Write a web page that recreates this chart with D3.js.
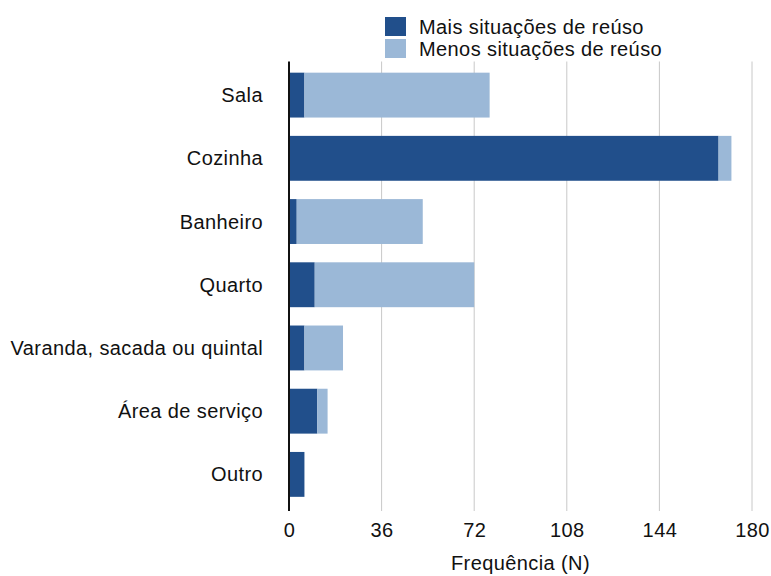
<!DOCTYPE html>
<html>
<head>
<meta charset="utf-8">
<script src="https://cdn.jsdelivr.net/npm/d3@7"></script>
<style>
  body { margin: 0; background: #fff; }
  text { font-family: "Liberation Sans", Arial, sans-serif; fill: #111; letter-spacing: 0.4px; }
</style>
</head>
<body>
<div id="chart"></div>
<script>
// categories and series values (frequency N)
const categories = ["Sala", "Cozinha", "Banheiro", "Quarto", "Varanda, sacada ou quintal", "Área de serviço", "Outro"];
const maisValues = [6, 167, 3, 10, 6, 11, 6];
const menosValues = [72, 5, 49, 62, 15, 4, 0];
const seriesNames = ["Mais situações de reúso", "Menos situações de reúso"];
const seriesColors = ["#214f8b", "#9bb8d7"];
const xTicks = [0, 36, 72, 108, 144, 180];

const width = 771, height = 576;
const margin = { top: 63.5, left: 289, right: 19, bottom: 70 };

const svg = d3.select("#chart").append("svg")
  .attr("width", width)
  .attr("height", height);

const x = d3.scaleLinear().domain([0, 180]).range([margin.left, width - margin.right]);
const y = d3.scaleBand().domain(categories)
  .range([margin.top, height - margin.bottom])
  .paddingInner(0.29).paddingOuter(0.145);

// gridlines
svg.append("g")
  .selectAll("line")
  .data(xTicks.slice(1))
  .join("line")
  .attr("x1", d => x(d)).attr("x2", d => x(d))
  .attr("y1", margin.top - 2).attr("y2", height - margin.bottom + 5)
  .attr("stroke", "#c8c8c8")
  .attr("stroke-width", 1);

// stacked bars
const table = categories.map((c, i) => ({ cat: c, mais: maisValues[i], menos: menosValues[i] }));
const stack = d3.stack().keys(["mais", "menos"])(table);

svg.append("g")
  .selectAll("g")
  .data(stack)
  .join("g")
  .attr("fill", (d, i) => seriesColors[i])
  .selectAll("rect")
  .data(d => d)
  .join("rect")
  .attr("x", d => x(d[0]))
  .attr("y", d => y(d.data.cat))
  .attr("width", d => x(d[1]) - x(d[0]))
  .attr("height", y.bandwidth());

// x axis
const xAxis = svg.append("g")
  .attr("transform", `translate(0, ${height - margin.bottom})`)
  .call(d3.axisBottom(x).tickValues(xTicks).tickSize(0).tickPadding(17));
xAxis.select(".domain").remove();
xAxis.selectAll("text").style("font-size", "20px").attr("fill", "#111");

// y axis line
svg.append("line")
  .attr("x1", margin.left).attr("x2", margin.left)
  .attr("y1", margin.top - 2).attr("y2", height - margin.bottom + 5)
  .attr("stroke", "#111")
  .attr("stroke-width", 2);

// category labels
svg.append("g")
  .selectAll("text")
  .data(categories)
  .join("text")
  .attr("x", 263)
  .attr("y", d => y(d) + y.bandwidth() / 2)
  .attr("dy", "0.35em")
  .attr("text-anchor", "end")
  .style("font-size", "20px")
  .text(d => d);

// axis title
svg.append("text")
  .attr("x", (x(0) + x(180)) / 2)
  .attr("y", 570)
  .attr("text-anchor", "middle")
  .style("font-size", "20px")
  .text("Frequência (N)");

// legend
const legend = svg.append("g")
  .selectAll("g")
  .data(seriesNames)
  .join("g")
  .attr("transform", (d, i) => `translate(385, ${17 + i * 22})`);

legend.append("rect")
  .attr("width", 21)
  .attr("height", 19)
  .attr("fill", (d, i) => seriesColors[i]);

legend.append("text")
  .attr("x", 34)
  .attr("y", 10)
  .attr("dy", "0.35em")
  .style("font-size", "20px")
  .text(d => d);
</script>
</body>
</html>
